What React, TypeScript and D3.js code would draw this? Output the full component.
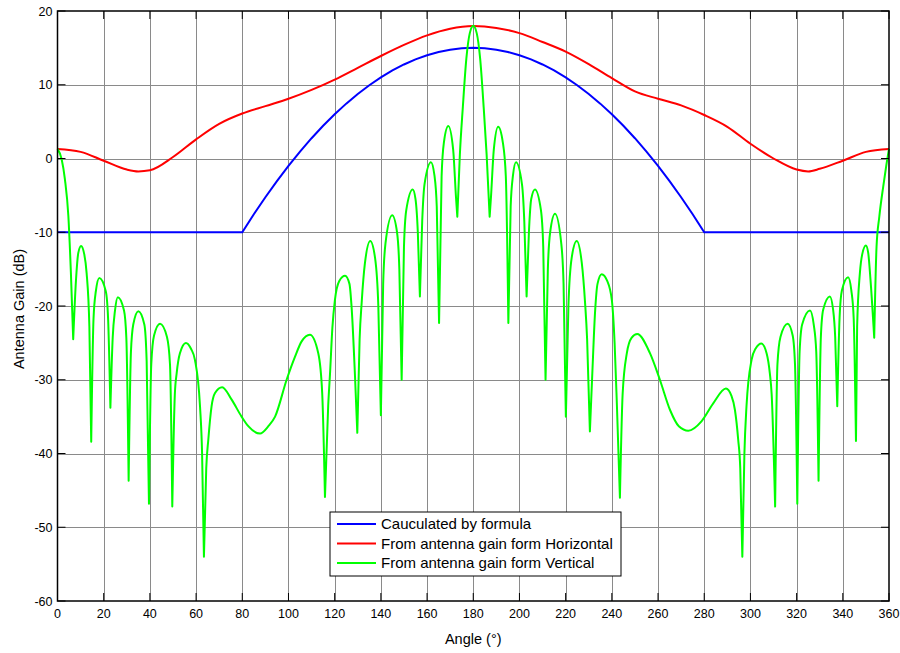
import React from 'react';
import * as d3 from 'd3';

const xTicks = [0, 20, 40, 60, 80, 100, 120, 140, 160, 180, 200, 220, 240, 260, 280, 300, 320, 340, 360];
const yTicks = [-60, -50, -40, -30, -20, -10, 0, 10, 20];

const legendLabels = [
  'Cauculated by formula',
  'From antenna gain form Horizontal',
  'From antenna gain form Vertical',
];
const seriesColors = ['#0000ff', '#ff0000', '#00ff00'];

// Blue: calculated by formula
const formulaAngles = [0, 80, 85, 90, 95, 100, 105, 110, 115, 120, 125, 130, 135, 140, 145, 150, 155, 160, 165, 170, 175, 180,
  185, 190, 195, 200, 205, 210, 215, 220, 225, 230, 235, 240, 245, 250, 255, 260, 265, 270, 275, 280, 360];
const formulaGains = [-10, -10, -7.56, -5.25, -3.06, -1.0, 0.94, 2.75, 4.44, 6.0, 7.44, 8.75, 9.94, 11.0, 11.94, 12.75, 13.44, 14.0, 14.44, 14.75, 14.94, 15.0,
  14.94, 14.75, 14.44, 14.0, 13.44, 12.75, 11.94, 11.0, 9.94, 8.75, 7.44, 6.0, 4.44, 2.75, 0.94, -1.0, -3.06, -5.25, -7.56, -10, -10];

// Red: horizontal pattern
const horizontalAngles = [0, 10, 20, 30, 35, 40, 50, 60, 70, 80, 90, 100, 110, 120, 130, 140, 150, 160, 170, 180,
  190, 200, 210, 220, 230, 240, 250, 260, 270, 280, 290, 300, 310, 320, 325, 330, 340, 350, 360];
const horizontalGains = [1.3, 0.9, -0.3, -1.5, -1.75, -1.6, 0.2, 2.6, 4.7, 6.1, 7.1, 8.1, 9.3, 10.7, 12.3, 13.9, 15.4, 16.7, 17.6, 17.95,
  17.7, 17.0, 15.8, 14.5, 12.8, 10.9, 9.1, 8.1, 7.2, 5.9, 4.3, 2.0, 0.0, -1.5, -1.75, -1.4, -0.3, 0.9, 1.3];

// Green: vertical pattern [angle, gain]
const verticalPattern: [number, number][] = [
  [0, 1.3], [1.8, -0.1], [3.2, -2.8], [4.7, -7.8], [5.8, -15.5], [6.8, -24.5],
  [8.0, -16.5], [9.0, -12.8], [10.2, -11.85], [11.6, -13.0], [12.6, -15.5], [13.8, -22.8], [14.6, -38.4],
  [15.6, -21.7], [16.6, -18.0], [18.1, -16.2], [20.9, -18.0], [21.9, -21.7], [22.9, -33.8],
  [23.9, -24.3], [24.9, -20.6], [26.1, -18.8], [28.8, -20.6], [29.8, -24.3], [30.8, -43.7],
  [31.8, -26.2], [32.8, -22.5], [35.0, -20.7], [37.6, -22.5], [38.6, -27.5], [39.6, -46.8],
  [40.6, -27.9], [41.8, -24.0], [44.4, -22.4], [47.4, -24.2], [48.7, -27.9], [49.7, -47.2],
  [50.8, -32.0], [51.6, -29.1], [53.0, -26.4], [55.6, -25.0], [57.8, -25.8], [59.5, -27.3], [61.7, -33.6], [62.6, -40.0], [63.4, -54.0],
  [64.4, -42.0], [65.3, -38.1], [66.7, -33.6], [68.2, -31.8], [71.3, -31.0], [75.4, -32.7], [79.7, -35.0], [82.6, -36.3], [87.7, -37.3],
  [91.3, -36.3], [94.2, -35.0], [99.2, -30.0], [102.8, -26.9], [105.7, -24.8], [109.3, -23.9], [112.9, -26.4], [114.6, -31.8], [115.8, -45.9],
  [117.2, -33.5], [118.0, -29.1], [119.0, -23.0], [120.1, -19.2], [122.0, -16.6], [124.5, -15.9], [126.4, -17.0], [127.4, -20.5], [128.8, -29.5], [129.8, -37.2],
  [130.8, -24.5], [131.7, -19.5], [133.1, -14.2], [135.4, -11.2], [137.5, -13.5], [138.9, -20.0], [140.0, -34.8],
  [141.0, -17.0], [142.0, -11.5], [144.9, -7.7], [147.0, -10.0], [148.0, -15.0], [149.0, -30.0],
  [150.0, -12.0], [151.0, -7.0], [153.8, -4.2], [155.0, -5.5], [156.0, -10.0], [156.9, -18.7],
  [157.9, -8.5], [158.9, -3.5], [161.7, -0.5], [163.2, -2.3], [164.2, -6.5], [165.2, -22.3],
  [166.3, -2.4], [167.3, 2.2], [169.2, 4.4], [171.3, 1.2], [172.5, -5.1], [173.1, -7.9],
  [174.2, 0.5], [175.5, 7.0], [177.0, 13.5], [178.5, 17.0], [180.0, 18.0], [181.5, 17.0], [183.0, 13.5], [184.5, 7.0], [185.8, 0.5], [187.1, -7.9],
  [187.7, -5.1], [188.9, 1.2], [190.8, 4.3], [192.8, 2.2], [194.1, -2.4], [195.2, -22.3],
  [196.2, -6.5], [197.2, -2.3], [198.5, -0.5], [201.1, -3.5], [202.1, -8.5], [203.1, -18.7],
  [204.1, -10.0], [205.1, -5.5], [206.7, -4.2], [209.3, -7.0], [210.3, -12.0], [211.3, -30.0],
  [212.3, -15.0], [213.3, -10.0], [215.4, -7.5], [218.1, -11.5], [219.1, -17.0], [220.1, -35.0],
  [221.2, -20.0], [222.6, -13.5], [224.8, -11.2], [227.0, -14.2], [228.4, -19.5], [229.3, -24.5], [230.5, -37.0],
  [231.5, -29.5], [232.8, -20.5], [233.8, -17.0], [235.6, -15.7], [238.0, -16.6], [240.0, -19.2], [241.2, -25.0], [242.2, -33.5], [243.5, -46.0],
  [244.7, -31.8], [246.5, -26.4], [248.6, -24.3], [251.0, -23.8], [256.5, -26.4], [260.8, -30.0], [265.2, -34.1], [269.0, -36.3], [273.1, -36.9],
  [278.9, -35.6], [283.9, -33.2], [289.4, -31.2], [291.8, -32.2], [293.3, -34.1], [294.7, -38.1], [295.6, -42.0], [296.5, -54.0],
  [297.4, -40.0], [298.3, -33.6], [300.5, -27.3], [302.2, -25.8], [304.8, -25.1], [307.0, -26.4], [308.4, -29.1], [309.2, -32.0], [310.7, -47.2],
  [311.7, -27.9], [313.0, -24.2], [316.1, -22.4], [318.3, -24.0], [319.3, -27.9], [320.3, -46.8],
  [321.3, -26.2], [322.4, -22.5], [325.8, -20.6], [327.4, -22.5], [328.5, -26.2], [329.5, -43.7],
  [330.5, -24.2], [331.5, -20.5], [334.4, -18.7], [335.8, -20.5], [336.7, -24.2], [337.6, -33.6],
  [338.6, -21.6], [339.6, -17.9], [342.3, -16.1], [343.7, -17.9], [344.7, -21.6], [345.7, -38.3],
  [346.2, -22.8], [347.4, -15.5], [348.4, -13.0], [350.0, -11.8], [351.0, -12.8], [352.0, -16.5], [353.6, -24.3],
  [354.6, -12.0], [355.8, -7.9], [357.5, -3.8], [358.8, -1.0], [360, 1.3],
];
const verticalNulls = [6.8, 14.6, 22.9, 30.8, 39.6, 49.7, 63.4, 115.8, 129.8, 140.0, 149.0, 156.9, 165.2, 173.1,
  187.1, 195.2, 203.1, 211.3, 220.1, 230.5, 243.5, 296.5, 310.7, 320.3, 329.5, 337.6, 345.7, 353.6];

const FONT = "'Liberation Sans', Arial, Helvetica, sans-serif";

export default function App() {
  const W = 900, H = 653;
  const left = 57.5, right = 889, top = 11, bottom = 601;
  const x = d3.scaleLinear().domain([0, 360]).range([left, right]);
  const y = d3.scaleLinear().domain([-60, 20]).range([bottom, top]);

  const linear = d3.line<[number, number]>().x(d => x(d[0])).y(d => y(d[1]));
  const smooth = d3.line<[number, number]>().x(d => x(d[0])).y(d => y(d[1])).curve(d3.curveMonotoneX);

  const bluePts = formulaAngles.map((a, i) => [a, formulaGains[i]] as [number, number]);
  const redPts = horizontalAngles.map((a, i) => [a, horizontalGains[i]] as [number, number]);

  const segs: [number, number][][] = [];
  let cur: [number, number][] = [];
  for (const p of verticalPattern) {
    cur.push(p);
    if (verticalNulls.includes(p[0]) && cur.length > 1) {
      segs.push(cur);
      cur = [p];
    }
  }
  if (cur.length > 1) segs.push(cur);
  const greenD = segs.map((s, i) => {
    const d = smooth(s) || '';
    return i === 0 ? d : 'L' + d.slice(1);
  }).join('');

  const tickLen = 8;

  return (
    <svg width={W} height={H} style={{ position: 'absolute', left: 0, top: 0, background: '#fff' }} fontFamily={FONT}>
      <rect x={0} y={0} width={W} height={H} fill="#fff" />
      {/* grid */}
      <g stroke="#8a8a8a" strokeWidth={1}>
        {xTicks.filter(t => t > 0 && t < 360).map(t => (
          <line key={'gx' + t} x1={Math.round(x(t)) + 0.5} x2={Math.round(x(t)) + 0.5} y1={top} y2={bottom} />
        ))}
        {yTicks.filter(t => t > -60 && t < 20).map(t => (
          <line key={'gy' + t} x1={left} x2={right} y1={Math.round(y(t)) + 0.5} y2={Math.round(y(t)) + 0.5} />
        ))}
      </g>
      {/* series */}
      <path d={linear(bluePts) || ''} fill="none" stroke={seriesColors[0]} strokeWidth={2} />
      <path d={smooth(redPts) || ''} fill="none" stroke={seriesColors[1]} strokeWidth={2} />
      <path d={greenD} fill="none" stroke={seriesColors[2]} strokeWidth={2} strokeLinejoin="round" />
      {/* box */}
      <rect x={left} y={top} width={right - left} height={bottom - top} fill="none" stroke="#000" strokeWidth={1.5} />
      {/* ticks */}
      <g stroke="#000" strokeWidth={1}>
        {xTicks.map(t => (
          <g key={'tx' + t}>
            <line x1={x(t)} x2={x(t)} y1={bottom} y2={bottom - tickLen} />
            <line x1={x(t)} x2={x(t)} y1={top} y2={top + tickLen} />
          </g>
        ))}
        {yTicks.map(t => (
          <g key={'ty' + t}>
            <line x1={left} x2={left + tickLen} y1={y(t)} y2={y(t)} />
            <line x1={right} x2={right - tickLen} y1={y(t)} y2={y(t)} />
          </g>
        ))}
      </g>
      {/* tick labels */}
      <g fontSize={12.5} fill="#000">
        {xTicks.map(t => (
          <text key={'lx' + t} x={x(t)} y={617.5} textAnchor="middle">{t}</text>
        ))}
        {yTicks.map(t => (
          <text key={'ly' + t} x={52.5} y={y(t) + 4.5} textAnchor="end">{t}</text>
        ))}
      </g>
      {/* axis labels */}
      <text x={(left + right) / 2} y={644} textAnchor="middle" fontSize={14.5}>Angle (°)</text>
      <text transform={`translate(24, ${(top + bottom) / 2 + 3}) rotate(-90)`} textAnchor="middle" fontSize={14.5}>Antenna Gain (dB)</text>
      {/* legend */}
      <g>
        <rect x={330} y={512} width={291} height={64} fill="#fff" stroke="#000" strokeWidth={1} />
        {legendLabels.map((lab, i) => {
          const ly = 524 + i * 19.5;
          return (
            <g key={lab}>
              <line x1={337} x2={376} y1={ly} y2={ly} stroke={seriesColors[i]} strokeWidth={2} />
              <text x={381} y={ly + 5.2} fontSize={15} fill="#000">{lab}</text>
            </g>
          );
        })}
      </g>
    </svg>
  );
}
